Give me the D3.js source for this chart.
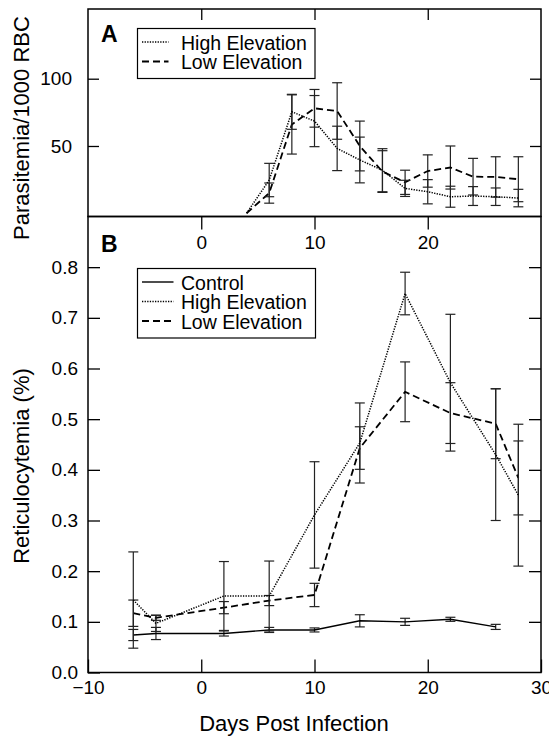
<!DOCTYPE html>
<html>
<head>
<meta charset="utf-8">
<script src="https://cdnjs.cloudflare.com/ajax/libs/d3/7.8.5/d3.min.js"></script>
<style>
  body { margin: 0; background: #fff; }
  text { font-family: "Liberation Sans", Arial, sans-serif; fill: #000; }
</style>
</head>
<body>
<div id="chart"></div>
<script>
// Panel A: parasitemia (per 1000 RBC)
var paraDays = [4, 6, 8, 10, 12, 14, 16, 18, 20, 22, 24, 26, 28];
var highPara = [0, 24.7, 75.4, 68.5, 48.2, 39.6, 32, 18.5, 16, 12.3, 12.8, 12.3, 11.3];
var highParaErr = [0, 12.4, 13, 19, 16.5, 17, 16, 6, 9, 7.8, 7, 6.5, 6.5];
var lowPara = [0, 15, 66, 78, 76, 50, 31, 23, 31.4, 34, 27.2, 27, 25.3];
var lowParaErr = [0, 7.5, 22, 14, 21, 18.5, 15.5, 9, 12, 16, 13.6, 15, 16.7];

// Panel B: reticulocytemia (%)
var retDays = [-6, -4, 2, 6, 10, 14, 18, 22, 26, 28];
var controlDays = [-6, -4, 2, 6, 10, 14, 18, 22, 26];
var controlRet = [0.074, 0.077, 0.077, 0.084, 0.084, 0.102, 0.100, 0.105, 0.090];
var controlErr = [0.011, 0.012, 0.005, 0.005, 0.004, 0.012, 0.007, 0.004, 0.005];
var highRet = [0.143, 0.097, 0.151, 0.151, 0.311, 0.453, 0.748, 0.572, 0.430, 0.350];
var highErr = [0.095, 0.016, 0.068, 0.069, 0.105, 0.079, 0.042, 0.135, 0.130, 0.140];
var lowRet = [0.117, 0.108, 0.128, 0.142, 0.153, 0.443, 0.554, 0.512, 0.491, 0.384];
var lowErr = [0.026, 0.005, 0.012, 0.010, 0.023, 0.042, 0.059, 0.060, 0.069, 0.073];

var xTicks = [-10, 0, 10, 20, 30];
var paraTicks = [50, 100];
var retTicks = [0, 0.1, 0.2, 0.3, 0.4, 0.5, 0.6, 0.7, 0.8];

var svgWidth = 549;
var svgHeight = 736;

var left = 88, right = 541;
var topA = 9, mid = 216.5, bottomB = 672.5;

var svg = d3.select("#chart")
  .append("svg")
  .attr("width", svgWidth)
  .attr("height", svgHeight);

// scales
var xScale = d3.scaleLinear().domain([-10, 30]).range([left, right]);
var yA = d3.scaleLinear().domain([-2.4, 151.8]).range([mid, topA]);
var yB = d3.scaleLinear().domain([0, 0.9]).range([bottomB, mid]);

// line styles per series
var styles = {
  control: { dash: null, width: 1.4 },
  high: { dash: "1.3,1.3", width: 1.5 },
  low: { dash: "7,4", width: 1.8 }
};

function toPoints(xs, ys, errs) {
  return xs.map(function(d, i) { return { x: d, y: ys[i], e: errs[i] }; });
}

function drawSeries(g, pts, yScale, style) {
  // error bars
  var bars = g.append("g").selectAll("g")
    .data(pts.filter(function(d) { return d.e > 0; }))
    .enter()
    .append("g")
    .attr("stroke", "#222")
    .attr("stroke-width", 1.2);
  bars.append("line")
    .attr("x1", function(d) { return xScale(d.x); })
    .attr("x2", function(d) { return xScale(d.x); })
    .attr("y1", function(d) { return yScale(d.y - d.e); })
    .attr("y2", function(d) { return yScale(d.y + d.e); });
  [-1, 1].forEach(function(s) {
    bars.append("line")
      .attr("x1", function(d) { return xScale(d.x) - 5; })
      .attr("x2", function(d) { return xScale(d.x) + 5; })
      .attr("y1", function(d) { return yScale(d.y + s * d.e); })
      .attr("y2", function(d) { return yScale(d.y + s * d.e); });
  });

  var line = d3.line()
    .x(function(d) { return xScale(d.x); })
    .y(function(d) { return yScale(d.y); });
  g.append("path")
    .datum(pts)
    .attr("d", line)
    .attr("fill", "none")
    .attr("stroke", "#000")
    .attr("stroke-width", style.width)
    .attr("stroke-dasharray", style.dash);
}

// ---------- Panel A ----------
var gA = svg.append("g");

gA.append("g")
  .attr("transform", "translate(" + left + ",0)")
  .call(d3.axisLeft(yA).tickValues(paraTicks).tickSize(-11).tickPadding(16));
gA.append("g")
  .attr("transform", "translate(" + right + ",0)")
  .call(d3.axisRight(yA).tickValues(paraTicks).tickSize(-11).tickFormat(""));
gA.append("g")
  .attr("transform", "translate(0," + topA + ")")
  .call(d3.axisTop(xScale).tickValues([0, 10, 20]).tickSize(-11).tickFormat(""));
gA.append("g")
  .attr("transform", "translate(0," + mid + ")")
  .call(d3.axisBottom(xScale).tickValues([0, 10, 20]).tickSize(13).tickPadding(6));

drawSeries(gA, toPoints(paraDays, lowPara, lowParaErr), yA, styles.low);
drawSeries(gA, toPoints(paraDays, highPara, highParaErr), yA, styles.high);

// ---------- Panel B ----------
var gB = svg.append("g");

gB.append("g")
  .attr("transform", "translate(" + left + ",0)")
  .call(d3.axisLeft(yB).tickValues(retTicks).tickFormat(d3.format(".1f")).tickSize(-12).tickPadding(10));
gB.append("g")
  .attr("transform", "translate(" + right + ",0)")
  .call(d3.axisRight(yB).tickValues(retTicks.slice(1)).tickSize(-12).tickFormat(""));
gB.append("g")
  .attr("transform", "translate(0," + bottomB + ")")
  .call(d3.axisBottom(xScale).tickValues(xTicks).tickSize(-13).tickPadding(8));

drawSeries(gB, toPoints(controlDays, controlRet, controlErr), yB, styles.control);
drawSeries(gB, toPoints(retDays, lowRet, lowErr), yB, styles.low);
drawSeries(gB, toPoints(retDays, highRet, highErr), yB, styles.high);

// tidy axes: no domain path, frame drawn separately
svg.selectAll(".domain").remove();
svg.selectAll(".tick line").attr("stroke", "#000").attr("stroke-width", 1.3);
svg.selectAll(".tick text").style("font-size", "19px").attr("fill", "#000");

// frames
[[topA, mid], [mid, bottomB]].forEach(function(p) {
  svg.append("rect")
    .attr("x", left)
    .attr("y", p[0])
    .attr("width", right - left)
    .attr("height", p[1] - p[0])
    .attr("fill", "none")
    .attr("stroke", "#000")
    .attr("stroke-width", 1.5);
});

// panel letters
svg.append("text").attr("x", 101).attr("y", 42)
  .style("font-size", "23px").style("font-weight", "bold").text("A");
svg.append("text").attr("x", 101).attr("y", 252)
  .style("font-size", "23px").style("font-weight", "bold").text("B");

// axis titles
svg.append("text")
  .attr("transform", "translate(29,128) rotate(-90)")
  .attr("text-anchor", "middle")
  .style("font-size", "22px")
  .text("Parasitemia/1000 RBC");
svg.append("text")
  .attr("transform", "translate(29,466) rotate(-90)")
  .attr("text-anchor", "middle")
  .style("font-size", "22px")
  .text("Reticulocytemia (%)");
svg.append("text")
  .attr("x", 294)
  .attr("y", 731)
  .attr("text-anchor", "middle")
  .style("font-size", "22px")
  .text("Days Post Infection");

// legends
function legend(x0, y0, w, rows) {
  var g = svg.append("g");
  g.append("rect")
    .attr("x", x0).attr("y", y0)
    .attr("width", w).attr("height", rows.length * 19.5 + 11)
    .attr("fill", "#fff").attr("stroke", "#000").attr("stroke-width", 1.2);
  rows.forEach(function(r, i) {
    var yy = y0 + 13.5 + i * 19.5;
    g.append("line")
      .attr("x1", x0 + 4.5).attr("x2", x0 + r.len)
      .attr("y1", yy).attr("y2", yy)
      .attr("stroke", "#000")
      .attr("stroke-width", r.style.width)
      .attr("stroke-dasharray", r.style.dash);
    g.append("text")
      .attr("x", x0 + 43.5).attr("y", yy + 7.5)
      .style("font-size", "19.5px")
      .text(r.label);
  });
}

legend(137.5, 28.5, 177.5, [
  { label: "High Elevation", style: styles.high, len: 31 },
  { label: "Low Elevation", style: styles.low, len: 31 }
]);
legend(137.5, 268.5, 178, [
  { label: "Control", style: styles.control, len: 36 },
  { label: "High Elevation", style: styles.high, len: 36 },
  { label: "Low Elevation", style: styles.low, len: 36 }
]);
</script>
</body>
</html>
